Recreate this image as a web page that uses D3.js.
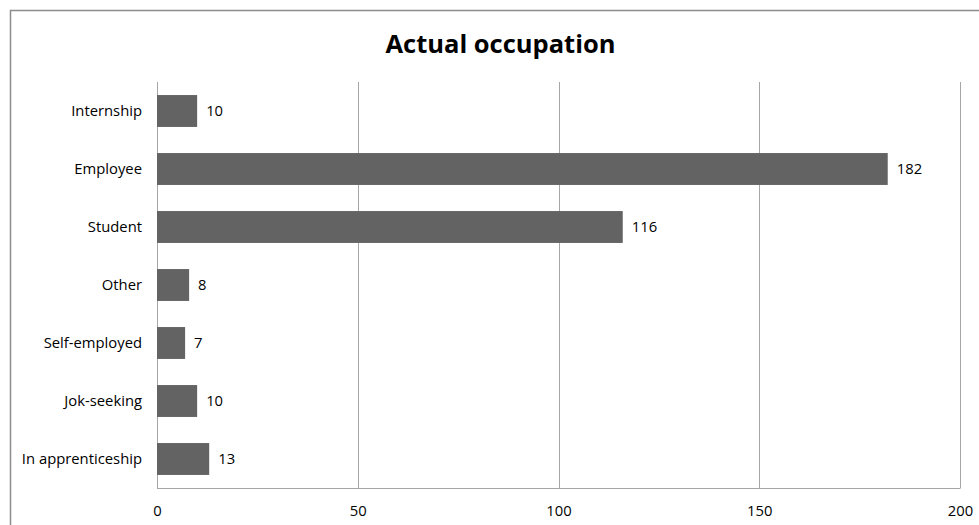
<!DOCTYPE html>
<html><head><meta charset="utf-8">
<script src="https://cdn.jsdelivr.net/npm/d3@7"></script>
<style>body{margin:0;background:#fff}svg{display:block}</style>
</head><body>
<script>
const categories = ["Internship","Employee","Student","Other","Self-employed","Jok-seeking","In apprenticeship"];
const values = [10,182,116,8,7,10,13];
const ticks = [0,50,100,150,200];
const title = "Actual occupation";

const W = 979, H = 525;
const m = {left:157, right:19, top:82, bottom:37};
const svg = d3.select("body").append("svg").attr("width",W).attr("height",H);
svg.append("rect").attr("x",10.5).attr("y",10.5).attr("width",W).attr("height",H)
  .attr("fill","#fff").attr("stroke","#8c8c8c").attr("stroke-width",1.5);

const x = d3.scaleLinear().domain([0,200]).range([m.left, W-m.right]);
const y = d3.scaleBand().domain(categories).range([m.top, H-m.bottom]).paddingInner(0.45).paddingOuter(0.225);

const font = "'Open Sans', sans-serif";
svg.append("text").attr("x",500.5).attr("y",53).attr("text-anchor","middle")
  .attr("font-family",font).attr("font-weight","bold").attr("font-size",25.5).attr("fill","#000").text(title);

svg.append("g").selectAll("line").data(ticks).join("line")
  .attr("x1",d=>Math.round(x(d))+0.5).attr("x2",d=>Math.round(x(d))+0.5)
  .attr("y1",m.top).attr("y2",H-m.bottom)
  .attr("stroke","#a6a6a6").attr("stroke-width",1);

svg.append("line").attr("x1",m.left).attr("x2",x(200)+0.5).attr("y1",H-m.bottom+0.5).attr("y2",H-m.bottom+0.5)
  .attr("stroke","#a6a6a6");

const fs = 14.8;
const xAxis = d3.axisBottom(x).tickValues(ticks).tickSize(0).tickPadding(0);
const gx = svg.append("g").attr("transform",`translate(0,${H-m.bottom})`).call(xAxis);
gx.select(".domain").remove();
gx.selectAll("text").attr("font-family",font).attr("font-size",fs).attr("fill","#000").attr("dy",null).attr("y",28);

const yAxis = d3.axisLeft(y).tickSize(0).tickPadding(15);
const gy = svg.append("g").attr("transform",`translate(${m.left},0)`).call(yAxis);
gy.select(".domain").remove();
gy.selectAll("text").attr("font-family",font).attr("font-size",fs).attr("fill","#000");

svg.append("g").selectAll("rect").data(values).join("rect")
  .attr("x",x(0)).attr("y",(d,i)=>y(categories[i]))
  .attr("width",d=>x(d)-x(0)).attr("height",y.bandwidth())
  .attr("fill","#636363");

svg.append("g").selectAll("text").data(values).join("text")
  .attr("x",d=>x(d)+9).attr("y",(d,i)=>y(categories[i])+y.bandwidth()/2).attr("dy","0.35em")
  .attr("font-family",font).attr("font-size",fs).attr("fill","#000").text(d=>d);
</script>
</body></html>
